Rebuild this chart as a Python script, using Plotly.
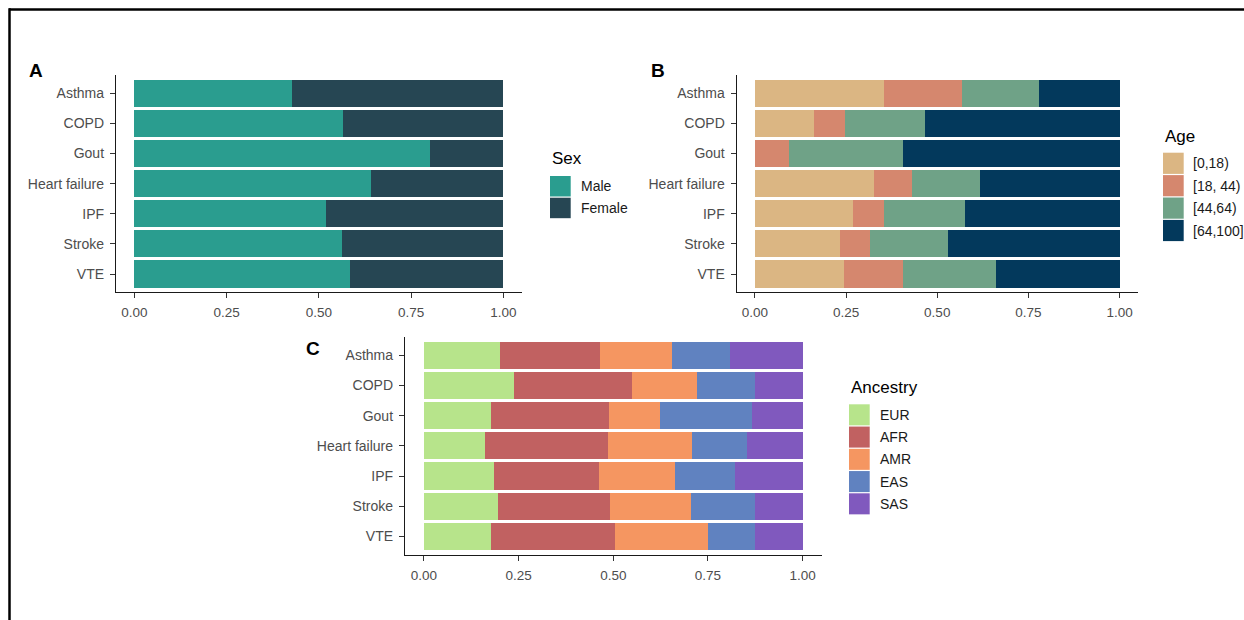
import plotly.graph_objects as go

# ---------------- data ----------------
diseases = ["Asthma", "COPD", "Gout", "Heart failure", "IPF", "Stroke", "VTE"]

sex_levels = ["Male", "Female"]
sex_male = [0.426, 0.564, 0.800, 0.641, 0.519, 0.562, 0.583]
sex_female = [0.574, 0.436, 0.200, 0.359, 0.481, 0.438, 0.417]
sex_colors = ["#2A9D8F", "#264653"]

age_levels = ["[0,18)", "[18, 44)", "[44,64)", "[64,100]"]
age_0_18 = [0.353, 0.163, 0.000, 0.326, 0.270, 0.232, 0.245]
age_18_44 = [0.215, 0.084, 0.094, 0.106, 0.083, 0.084, 0.160]
age_44_64 = [0.212, 0.219, 0.313, 0.184, 0.223, 0.213, 0.255]
age_64_100 = [0.220, 0.534, 0.593, 0.384, 0.424, 0.471, 0.340]
age_colors = ["#DBB683", "#D5876E", "#6FA287", "#03395C"]

anc_levels = ["EUR", "AFR", "AMR", "EAS", "SAS"]
anc_eur = [0.200, 0.238, 0.178, 0.160, 0.186, 0.196, 0.178]
anc_afr = [0.266, 0.312, 0.310, 0.327, 0.277, 0.296, 0.327]
anc_amr = [0.188, 0.170, 0.136, 0.221, 0.201, 0.213, 0.246]
anc_eas = [0.154, 0.155, 0.243, 0.145, 0.157, 0.169, 0.123]
anc_sas = [0.192, 0.125, 0.133, 0.147, 0.179, 0.126, 0.126]
anc_colors = ["#B7E48B", "#C16161", "#F59661", "#6082C0", "#8059BE"]

x_tick_vals = [0, 0.25, 0.5, 0.75, 1.0]
x_tick_text = ["0.00", "0.25", "0.50", "0.75", "1.00"]

# ---------------- layout helpers ----------------
W, H = 1244, 620
FONT = "Liberation Sans, Arial, Helvetica, sans-serif"


def fx(px):
    return px / W


def fy(py):
    return 1 - py / H


panels = [
    dict(xa="x", ya="y", xdom=(116, 521.8), ydom=(75.2, 292.1),
         series=[sex_male, sex_female], names=sex_levels, colors=sex_colors,
         letter="A", letter_pos=(35.5, 70),
         leg_title="Sex", leg_x=550, leg_title_y=158, leg_key0=176, leg_pitch=21.7, leg_txt=29),
    dict(xa="x2", ya="y2", xdom=(736.7, 1137.8), ydom=(75.2, 292.1),
         series=[age_0_18, age_18_44, age_44_64, age_64_100], names=age_levels, colors=age_colors,
         letter="B", letter_pos=(657.5, 71),
         leg_title="Age", leg_x=1163, leg_title_y=136, leg_key0=152.7, leg_pitch=22.4, leg_txt=27.5),
    dict(xa="x3", ya="y3", xdom=(405, 821.6), ydom=(337.2, 554.5),
         series=[anc_eur, anc_afr, anc_amr, anc_eas, anc_sas], names=anc_levels, colors=anc_colors,
         letter="C", letter_pos=(312.5, 348.5),
         leg_title="Ancestry", leg_x=849, leg_title_y=387, leg_key0=404.3, leg_pitch=22.25, leg_txt=29),
]

fig = go.Figure()
shapes = []
annotations = []
layout_axes = {}

for i, p in enumerate(panels):
    for vals, name, col in zip(p["series"], p["names"], p["colors"]):
        fig.add_trace(go.Bar(
            y=diseases, x=vals, orientation="h", name=name,
            marker=dict(color=col, line=dict(width=0)),
            width=0.9, showlegend=False,
            xaxis=p["xa"], yaxis=p["ya"],
            hovertemplate="%{y}: %{x:.3f}<extra>" + name + "</extra>",
        ))
    xkey = "xaxis" if p["xa"] == "x" else "xaxis" + p["xa"][1:]
    ykey = "yaxis" if p["ya"] == "y" else "yaxis" + p["ya"][1:]
    layout_axes[xkey] = dict(
        domain=[fx(p["xdom"][0]), fx(p["xdom"][1])], anchor=p["ya"],
        range=[-0.05, 1.05], autorange=False,
        tickmode="array", tickvals=x_tick_vals, ticktext=x_tick_text,
        showline=True, linecolor="#1a1a1a", linewidth=1.3,
        ticks="outside", ticklen=5, tickwidth=1.1, tickcolor="#333333",
        tickfont=dict(family=FONT, size=13.5, color="#4D4D4D"),
        showgrid=False, zeroline=False, ticklabelstandoff=3,
    )
    layout_axes[ykey] = dict(
        domain=[fy(p["ydom"][1]), fy(p["ydom"][0])], anchor=p["xa"],
        type="category", categoryorder="array", categoryarray=diseases,
        range=[6.6, -0.6], autorange=False,
        showline=True, linecolor="#1a1a1a", linewidth=1.3,
        ticks="outside", ticklen=5, tickwidth=1.1, tickcolor="#333333",
        tickfont=dict(family=FONT, size=14, color="#4D4D4D"),
        showgrid=False, zeroline=False, ticklabelstandoff=3,
    )
    # panel letter
    annotations.append(dict(
        text="<b>" + p["letter"] + "</b>", x=fx(p["letter_pos"][0]), y=fy(p["letter_pos"][1]),
        xref="paper", yref="paper", xanchor="center", yanchor="middle", showarrow=False,
        font=dict(family=FONT, size=19, color="black"),
    ))
    # legend (ggplot style)
    annotations.append(dict(
        text=p["leg_title"], x=fx(p["leg_x"]), y=fy(p["leg_title_y"]),
        xref="paper", yref="paper", xanchor="left", yanchor="middle", showarrow=False,
        font=dict(family=FONT, size=17, color="black"),
    ))
    for k, (name, col) in enumerate(zip(p["names"], p["colors"])):
        top = p["leg_key0"] + k * p["leg_pitch"]
        bot = top + p["leg_pitch"] - 1.2
        shapes.append(dict(
            type="rect", xref="paper", yref="paper",
            x0=fx(p["leg_x"]), x1=fx(p["leg_x"] + 20.7), y0=fy(bot), y1=fy(top),
            fillcolor=col, line=dict(width=0), layer="above",
        ))
        annotations.append(dict(
            text=name, x=fx(p["leg_x"] + p["leg_txt"]), y=fy((top + bot) / 2),
            xref="paper", yref="paper", xanchor="left", yanchor="middle", showarrow=False,
            font=dict(family=FONT, size=14, color="#1a1a1a"),
        ))

# outer frame lines (top and left edges of the figure panel)
shapes.append(dict(type="line", xref="paper", yref="paper",
                   x0=fx(9), x1=1.0, y0=fy(9.5), y1=fy(9.5),
                   line=dict(color="black", width=2.5)))
shapes.append(dict(type="line", xref="paper", yref="paper",
                   x0=fx(9.5), x1=fx(9.5), y0=fy(8.3), y1=0.0,
                   line=dict(color="black", width=2.5)))

fig.update_layout(
    **layout_axes,
    barmode="stack",
    width=W, height=H,
    margin=dict(l=0, r=0, t=0, b=0, pad=0),
    paper_bgcolor="white", plot_bgcolor="white",
    showlegend=False,
    shapes=shapes,
    annotations=annotations,
    font=dict(family=FONT),
)

fig.write_html("out.html", config={"displayModeBar": False},
               post_script="document.body.style.margin='0';")
